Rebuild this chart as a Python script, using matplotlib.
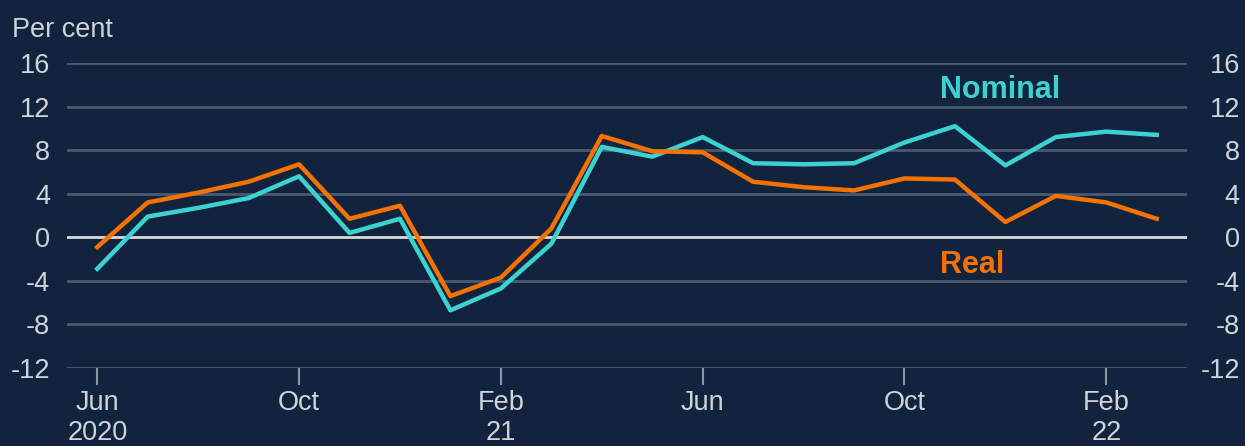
import numpy as np
import matplotlib.pyplot as plt

# monthly, Jun 2020 to Mar 2022
months = ['Jun 20', 'Jul 20', 'Aug 20', 'Sep 20', 'Oct 20', 'Nov 20', 'Dec 20',
          'Jan 21', 'Feb 21', 'Mar 21', 'Apr 21', 'May 21', 'Jun 21', 'Jul 21',
          'Aug 21', 'Sep 21', 'Oct 21', 'Nov 21', 'Dec 21', 'Jan 22', 'Feb 22', 'Mar 22']
nominal = [-2.9, 1.9, 2.7, 3.6, 5.6, 0.4, 1.7, -6.7, -4.7, -0.6, 8.3, 7.4, 9.2, 6.8,
           6.7, 6.8, 8.7, 10.2, 6.6, 9.2, 9.7, 9.4]
real = [-0.9, 3.2, 4.1, 5.1, 6.7, 1.7, 2.9, -5.4, -3.7, 0.8, 9.3, 7.9, 7.8, 5.1,
        4.6, 4.3, 5.4, 5.3, 1.4, 3.8, 3.2, 1.7]

tick_pos = [0, 4, 8, 12, 16, 20]
tick_labels = ['Jun\n2020', 'Oct', 'Feb\n21', 'Jun', 'Oct', 'Feb\n22']
yticks = np.arange(-12, 17, 4)

bg = '#12233d'
grid_col = '#4a5a70'
text_col = '#d0d4da'
teal = '#3dd2d2'
orange = '#f57200'

plt.rcParams['font.family'] = ['Liberation Sans', 'DejaVu Sans']

fig = plt.figure(figsize=(12.45, 4.46), dpi=100, facecolor=bg)
ax = fig.add_axes([67/1245, 1-368/446, (1187-67)/1245, (368-63)/446])
ax.set_facecolor(bg)

x = np.arange(len(months))
# gridlines, zero line drawn lighter
for yv in yticks:
    if yv != 0:
        ax.axhline(yv, color=grid_col, lw=2, zorder=1)
ax.axhline(0, color='#d9d9d9', lw=2, zorder=2)

ax.plot(x, nominal, color=teal, lw=3.2, zorder=3)
ax.plot(x, real, color=orange, lw=3.2, zorder=4)

ax.set_xlim(-0.6, 21.6)
ax.set_ylim(-12, 16)
for s in ax.spines.values():
    s.set_visible(False)

ax.set_yticks(yticks)
ax.set_yticklabels([str(v) for v in yticks])
ax.tick_params(axis='y', length=0, pad=12, labelsize=19.5, labelcolor=text_col)
ax.set_xticks(tick_pos)
ax.set_xticklabels(tick_labels, linespacing=1.18)
ax.tick_params(axis='x', length=12, width=1.5, color='#8a96a6', pad=4,
               labelsize=19.5, labelcolor=text_col)

# right-hand axis copy
ax2 = ax.twinx()
ax2.set_ylim(-12, 16)
ax2.set_yticks(yticks)
ax2.set_yticklabels([str(v) for v in yticks], ha='right')
ax2.tick_params(axis='y', length=0, pad=38, labelsize=19.5, labelcolor=text_col)
for s in ax2.spines.values():
    s.set_visible(False)

fig.text(12/1245, 1-30/446, 'Per cent', fontsize=19.5,
         color=text_col, ha='left', va='center')
ax.text(17.9, 13.5, 'Nominal', fontsize=22, fontweight='bold',
        color=teal, ha='center', va='center')
ax.text(17.35, -2.5, 'Real', fontsize=22, fontweight='bold',
        color=orange, ha='center', va='center')

fig.savefig('out.png', dpi=100, facecolor=bg)
